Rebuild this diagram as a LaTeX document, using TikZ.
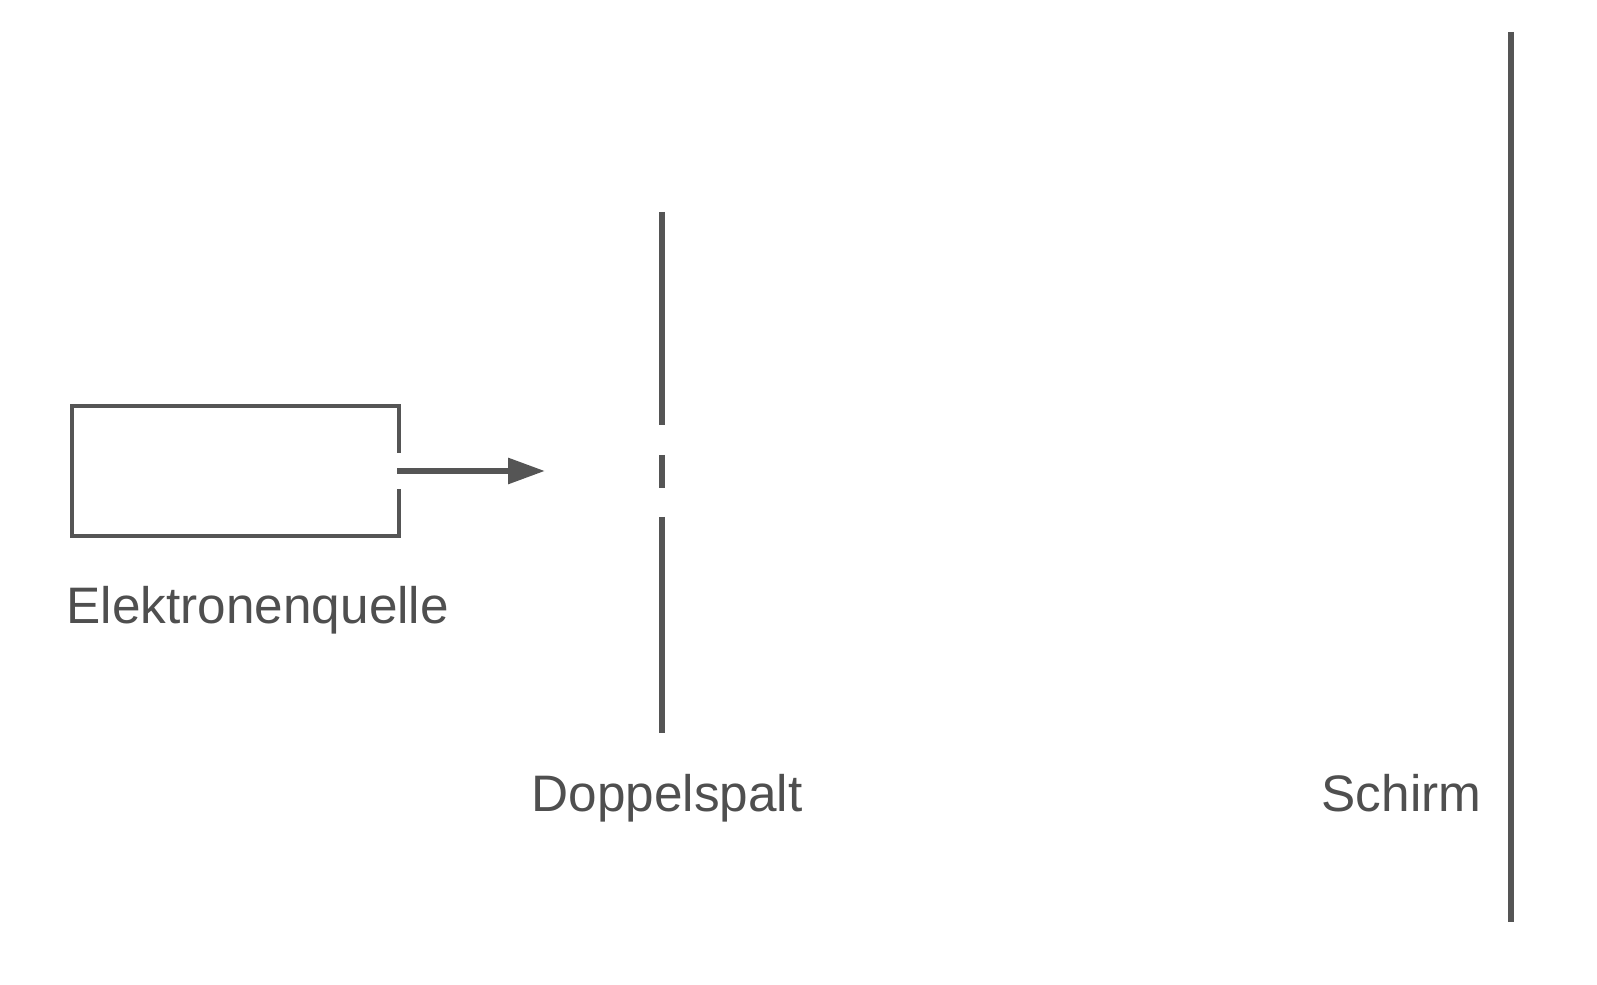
\documentclass[tikz,border=0pt]{standalone}
\usepackage{fontspec}
\setmainfont{Liberation Sans}
\usepackage{xcolor}
\usepackage{tikz}
\usetikzlibrary{arrows.meta,positioning,calc}
\definecolor{linegray}{HTML}{555555}
\definecolor{textgray}{HTML}{4F4F4F}

\begin{document}
\begin{tikzpicture}[
    wall/.style={line width=1.7pt, draw=linegray},
    sourcebox/.style={minimum width=3.27cm, minimum height=1.30cm, inner sep=0pt, outer sep=0pt},
    label/.style={text=textgray, font=\fontsize{14.6}{17}\selectfont, inner sep=0pt},
    arrow/.style={-{Triangle[length=3.7mm, width=2.5mm]}, line width=1.7pt, draw=linegray}
]
\useasboundingbox (0,0) rectangle (15.97,9.85);
\node[sourcebox] (quelle) at (2.355,5.14) {};
\coordinate (strahl) at (5.45,5.14);
\coordinate (spalt) at (6.62,5.14);
\node[label, anchor=base west] (quelletext) at (0.66,3.61) {Elektronenquelle};
\node[label, anchor=base] (spalttext) at (6.67,1.73) {Doppelspalt};
\node[label, anchor=base] (schirmtext) at (14.015,1.73) {Schirm};
% source with opening on the right
\draw[line width=1.2pt, draw=linegray] ([yshift=1.8mm]quelle.east) -- (quelle.north east) -- (quelle.north west)
    -- (quelle.south west) -- (quelle.south east) -- ([yshift=-1.8mm]quelle.east);
\draw[arrow] ([xshift=-0.2mm]quelle.east) -- (strahl);
% double slit
\draw[wall] ($(spalt)+(0,2.59)$) -- ($(spalt)+(0,0.46)$);
\draw[wall] ($(spalt)+(0,0.16)$) -- ($(spalt)+(0,-0.17)$);
\draw[wall] ($(spalt)+(0,-0.46)$) -- ($(spalt)+(0,-2.62)$);
% screen
\draw[wall] (15.11,9.53) -- (15.11,0.63);
\end{tikzpicture}
\end{document}
